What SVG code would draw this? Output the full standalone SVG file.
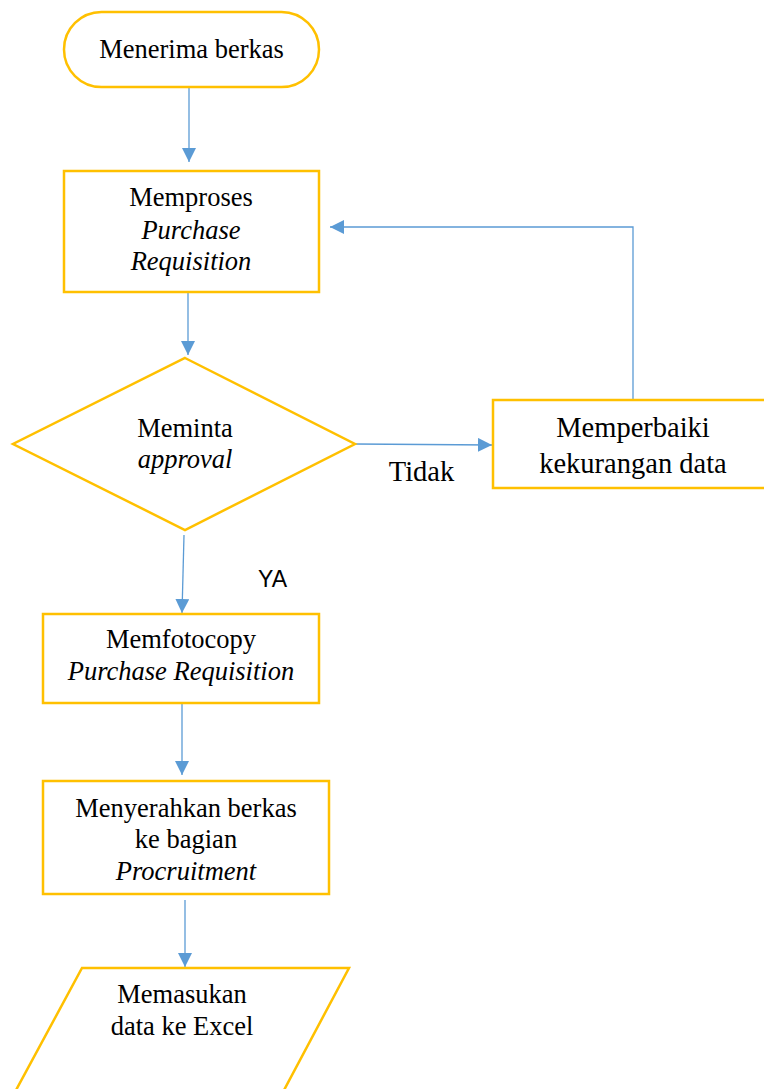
<svg xmlns="http://www.w3.org/2000/svg" width="764" height="1089" viewBox="0 0 764 1089">
  <style>
    .shape { fill: #FFFFFF; stroke: #FFC000; stroke-width: 2.5; }
    .link { fill: none; stroke: #5B9BD5; stroke-width: 1.3; }
    .t { font-family: "Liberation Serif", "Times New Roman", serif; font-size: 26.5px; fill: #000000; text-anchor: middle; }
    .i { font-style: italic; }
    .big { font-size: 28.5px; }
    .lbl { font-family: "Liberation Sans", Arial, sans-serif; font-size: 23px; fill: #000000; }
  </style>
  <defs>
    <marker id="arrow" viewBox="0 0 10 10" refX="10" refY="5" markerWidth="14" markerHeight="14" markerUnits="userSpaceOnUse" orient="auto">
      <path d="M0,0 L10,5 L0,10 Z" fill="#5B9BD5"/>
    </marker>
  </defs>

  <rect width="764" height="1089" fill="#FFFFFF"/>

  <!-- connectors -->
  <g id="connectors">
    <line class="link" x1="189" y1="87" x2="189" y2="162" marker-end="url(#arrow)"/>
    <line class="link" x1="188" y1="292" x2="188" y2="355" marker-end="url(#arrow)"/>
    <line class="link" x1="355" y1="444" x2="492" y2="445" marker-end="url(#arrow)"/>
    <polyline class="link" points="633,400 633,227 330,227" marker-end="url(#arrow)"/>
    <line class="link" x1="184" y1="535" x2="182" y2="613" marker-end="url(#arrow)"/>
    <line class="link" x1="182" y1="703" x2="182" y2="775" marker-end="url(#arrow)"/>
    <line class="link" x1="185" y1="900" x2="185" y2="967" marker-end="url(#arrow)"/>
  </g>

  <!-- start -->
  <g id="start">
    <rect class="shape" x="64" y="12" width="255" height="75" rx="37.5" ry="37.5"/>
    <text class="t" x="191.5" y="58">Menerima berkas</text>
  </g>

  <!-- process purchase requisition -->
  <g id="memproses">
    <rect class="shape" x="64" y="171" width="255" height="121"/>
    <text class="t" x="191" y="206">Memproses</text>
    <text class="t i" x="191" y="239">Purchase</text>
    <text class="t i" x="191" y="270">Requisition</text>
  </g>

  <!-- approval decision -->
  <g id="approval">
    <polygon class="shape" points="185,358 355,444 185,530 13,444"/>
    <text class="t" x="185" y="437">Meminta</text>
    <text class="t i" x="185" y="468">approval</text>
  </g>

  <!-- fix missing data -->
  <g id="memperbaiki">
    <rect class="shape" x="493" y="400" width="280" height="88"/>
    <text class="t big" x="633" y="437">Memperbaiki</text>
    <text class="t big" x="633" y="473">kekurangan data</text>
  </g>

  <!-- branch labels -->
  <g id="labels">
    <text class="t big" x="421.5" y="481">Tidak</text>
    <text class="lbl" x="258" y="587">YA</text>
  </g>

  <!-- photocopy -->
  <g id="memfotocopy">
    <rect class="shape" x="43" y="614" width="276" height="89"/>
    <text class="t" x="181" y="648">Memfotocopy</text>
    <text class="t i" x="181" y="680">Purchase Requisition</text>
  </g>

  <!-- hand over to procurement -->
  <g id="menyerahkan">
    <rect class="shape" x="43" y="781" width="286" height="113"/>
    <text class="t" x="186" y="817">Menyerahkan berkas</text>
    <text class="t" x="186" y="848">ke bagian</text>
    <text class="t i" x="186" y="880">Procruitment</text>
  </g>

  <!-- data entry -->
  <g id="memasukan">
    <polygon class="shape" points="82,968 349,968 283,1092 15,1092"/>
    <text class="t" x="182" y="1003">Memasukan</text>
    <text class="t" x="182" y="1035">data ke Excel</text>
  </g>
</svg>
